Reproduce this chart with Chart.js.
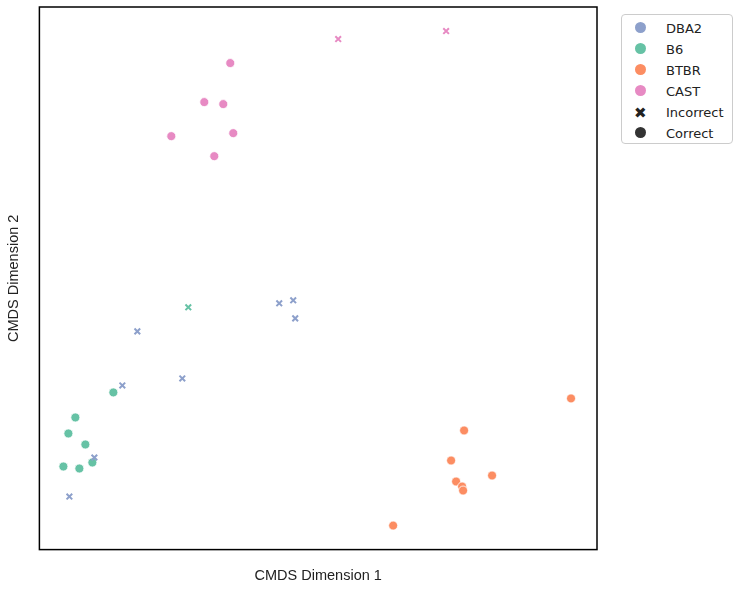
<!DOCTYPE html>
<html><head>
<script src="https://cdn.jsdelivr.net/npm/chart.js@4"></script>
<style>
body{margin:0;background:#fff;font-family:"DejaVu Sans",sans-serif}
#wrap{position:relative;width:740px;height:589px}
#legend{position:absolute;left:621px;top:14px;width:110px;height:128px;border:1px solid #ccc;border-radius:4px;background:#fff;font-size:13px;color:#222}
.row{display:flex;align-items:center;height:21px;padding-left:12px;margin-top:0}
.row span.m{width:12px;margin-right:20px;text-align:center}
</style></head><body>
<div id="wrap"><canvas id="c" width="740" height="589"></canvas>
<div id="legend"></div></div>
<script>
var groups = ["DBA2", "B6", "BTBR", "CAST"];
var colors = ["#8da0cb", "#66c2a5", "#fc8d62", "#e78ac3"];
// [x, y] in CMDS units, y positive up
var correct = {
    DBA2: [],
    B6: [[75,-417],[68,-433],[85,-444],[63,-466],[79,-468],[92,-462],[113,-392]],
    BTBR: [[571,-398],[464,-430],[451,-460],[456,-481],[462,-486],[463,-490],[492,-475],[393,-525]],
    CAST: [[230,-63],[204,-102],[223,-104],[233,-133],[171,-136],[214,-156]],
};
var incorrect = {
    DBA2: [[69,-496],[94,-457],[122,-385],[137,-331],[182,-378],[279,-303],[293,-300],[295,-318]],
    B6: [[188,-307]],
    BTBR: [],
    CAST: [[338,-39],[446,-31]],
};

var datasets = [];
groups.forEach(function (g, i) {
    datasets.push({
        data: correct[g].map(function (p) { return {x: p[0], y: p[1]}; }),
        backgroundColor: colors[i], borderColor: "#fff", borderWidth: 0.8,
        pointStyle: "circle", pointRadius: 4.5,
    });
    datasets.push({
        data: incorrect[g].map(function (p) { return {x: p[0], y: p[1]}; }),
        borderColor: colors[i], borderWidth: 2,
        pointStyle: "crossRot", pointRadius: 4,
    });
});

var frame = {
    id: "frame",
    afterDraw: function (chart) {
        var a = chart.chartArea, c = chart.ctx;
        c.save(); c.strokeStyle = "#000"; c.lineWidth = 1.5;
        c.strokeRect(a.left, a.top, a.right - a.left, a.bottom - a.top);
        c.restore();
    },
};

new Chart(document.getElementById("c").getContext("2d"), {
    type: "scatter",
    data: {datasets: datasets},
    plugins: [frame],
    options: {
        responsive: false, animation: false,
        layout: {padding: {top: 7, right: 143, left: 0, bottom: 0}},
        plugins: {legend: {display: false}, tooltip: {enabled: false}},
        scales: {
            x: {min: 39, max: 597, ticks: {display: false}, grid: {display: false},
                title: {display: true, text: "CMDS Dimension 1", color: "#222", font: {size: 14.5}, padding: {top: 10, bottom: 4}}},
            y: {min: -549, max: -7, ticks: {display: false}, grid: {display: false},
                title: {display: true, text: "CMDS Dimension 2", color: "#222", font: {size: 14.5}, padding: {top: 5, bottom: 9}}},
        },
    },
});

var items = groups.map(function (g, i) { return ['<span style="display:inline-block;width:11px;height:11px;border-radius:50%;background:' + colors[i] + '"></span>', g]; });
items.push(['<b style="font-size:15px">&#10006;</b>', "Incorrect"]);
items.push(['<span style="display:inline-block;width:11px;height:11px;border-radius:50%;background:#333"></span>', "Correct"]);
document.getElementById("legend").innerHTML = items.map(function (it, k) {
    return '<div class="row" style="' + (k === 0 ? 'margin-top:3px' : '') + '"><span class="m">' + it[0] + '</span>' + it[1] + '</div>';
}).join("");
</script>
</body></html>
